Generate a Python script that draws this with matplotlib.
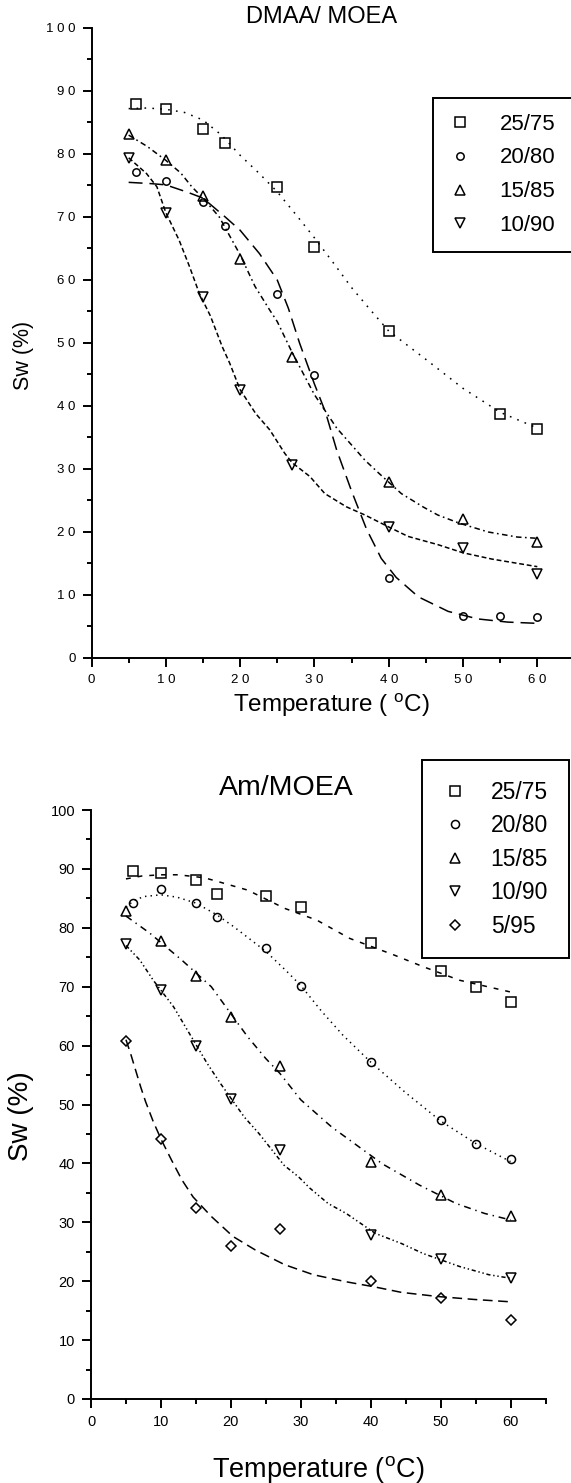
import matplotlib
matplotlib.use("Agg")
import matplotlib.pyplot as plt
from matplotlib.ticker import FixedLocator, MultipleLocator

plt.rcParams['font.family'] = ['Liberation Sans', 'DejaVu Sans']
plt.rcParams['mathtext.fontset'] = 'custom'
plt.rcParams['mathtext.rm'] = 'Liberation Sans'
plt.rcParams['lines.scale_dashes'] = False

# ---------- data: DMAA/MOEA (top) ----------
top_labels = ['25/75', '20/80', '15/85', '10/90']

t25_top = [6, 10, 15, 18, 25, 30, 40, 55, 60]
sw25_top = [87.9, 87.2, 84.0, 81.8, 74.7, 65.2, 51.9, 38.7, 36.4]
t20_top = [6, 10, 15, 18, 25, 30, 40, 50, 55, 60]
sw20_top = [77.2, 75.7, 72.4, 68.6, 57.8, 44.9, 12.7, 6.6, 6.6, 6.5]
t15_top = [5, 10, 15, 20, 27, 40, 50, 60]
sw15_top = [83.2, 79.1, 73.3, 63.3, 47.8, 28.0, 22.0, 18.4]
t10_top = [5, 10, 15, 20, 27, 40, 50, 60]
sw10_top = [79.4, 70.7, 57.3, 42.6, 30.6, 20.8, 17.4, 13.3]

# fitted curves
fit25_top_t = [5, 7.5, 10, 12.5, 15, 17.5, 20, 22.5, 25, 27.5, 30, 32.5, 35, 37.5, 40, 45, 50, 55, 60]
fit25_top_v = [87.2, 87.3, 87.1, 86.6, 85.4, 83.0, 79.8, 77.0, 74.0, 70.4, 66.7, 62.8, 58.8, 55.3, 51.9, 47.4, 42.8, 39.0, 36.5]
fit20_top_t = [5, 8, 10, 13, 15, 18, 20, 22.6, 25, 26.5, 28, 30, 31.5, 33, 35, 37, 39, 41, 44, 48, 52, 56, 60]
fit20_top_v = [75.5, 75.3, 75.1, 73.9, 73.0, 70.0, 67.9, 64.2, 60.0, 55.5, 50.0, 43.5, 39.0, 33.0, 26.5, 20.5, 15.8, 12.8, 9.7, 7.4, 6.2, 5.7, 5.5]
fit15_top_t = [5, 7.5, 10, 12, 13.5, 15, 17.2, 20, 22, 24, 25, 27, 30, 33, 36.8, 38.7, 41.7, 44.6, 46.6, 49.5, 53.4, 57.3, 60]
fit15_top_v = [83.0, 81.2, 79.0, 77.0, 74.8, 73.0, 70.0, 64.0, 59.0, 55.2, 53.4, 48.5, 41.8, 36.5, 31.4, 29.3, 26.1, 24.0, 22.7, 21.4, 20.0, 19.2, 19.0]
fit10_top_t = [5, 7.4, 8.8, 10, 11.8, 13.2, 14.5, 16, 17.6, 18.6, 20, 22.1, 24, 26, 27, 29.4, 31.4, 34.3, 36.8, 40, 42.6, 46.6, 50, 53.9, 60]
fit10_top_v = [79.4, 76.9, 74.8, 70.7, 66.3, 62.1, 57.9, 54.3, 49.4, 46.8, 42.6, 38.8, 36.2, 32.5, 31.0, 28.8, 26.1, 24.0, 22.7, 20.8, 19.3, 18.0, 16.7, 15.7, 14.5]

# ---------- data: Am/MOEA (bottom) ----------
bot_labels = ['25/75', '20/80', '15/85', '10/90', '5/95']

t25_bot = [6, 10, 15, 18, 25, 30, 40, 50, 55, 60]
sw25_bot = [89.7, 89.3, 88.2, 85.8, 85.4, 83.6, 77.5, 72.6, 69.9, 67.4]
t20_bot = [6, 10, 15, 18, 25, 30, 40, 50, 55, 60]
sw20_bot = [84.2, 86.6, 84.2, 81.8, 76.5, 70.2, 57.2, 47.3, 43.3, 40.7]
t15_bot = [5, 10, 15, 20, 27, 40, 50, 60]
sw15_bot = [82.9, 77.8, 71.9, 64.9, 56.6, 40.2, 34.6, 31.0]
t10_bot = [5, 10, 15, 20, 27, 40, 50, 60]
sw10_bot = [77.3, 69.5, 60.0, 50.9, 42.3, 27.8, 23.7, 20.5]
t5_bot = [5, 10, 15, 20, 27, 40, 50, 60]
sw5_bot = [60.8, 44.1, 32.4, 26.0, 28.8, 20.0, 17.2, 13.4]

fit25_bot_t = [5, 7.3, 10, 12.5, 16.2, 18.3, 22.4, 27.7, 32.3, 37, 43.3, 47.5, 52.7, 60]
fit25_bot_v = [88.3, 88.8, 89.0, 89.0, 88.5, 87.8, 86.4, 83.3, 81.3, 78.2, 75.4, 73.4, 71.1, 69.1]
fit20_bot_t = [5, 6, 7.5, 10, 12.3, 15, 18, 20.4, 25, 28, 30, 33, 36, 40, 45, 50, 55, 60]
fit20_bot_v = [83.5, 84.5, 85.3, 85.6, 85.2, 84.2, 82.2, 80.2, 76.0, 72.6, 70.2, 65.8, 61.8, 57.2, 52.0, 47.2, 43.4, 40.3]
fit15_bot_t = [5, 8.4, 13, 17.2, 22.4, 25, 27, 30, 34.4, 38.1, 41.7, 47, 52.2, 56.3, 60]
fit15_bot_v = [82.0, 79.1, 74.5, 70.0, 61.5, 57.8, 55.3, 50.8, 46.2, 43.0, 39.9, 36.3, 33.2, 31.5, 30.4]
fit10_bot_t = [5, 7, 8.9, 11.8, 13.2, 16.6, 18.5, 21.9, 24, 27.6, 29.7, 31.3, 33.9, 36.5, 39.2, 40.7, 44.4, 47.5, 52.7, 56.9, 60]
fit10_bot_v = [77.0, 74.5, 71.1, 66.6, 63.8, 57.0, 53.6, 47.9, 45.1, 39.7, 37.7, 35.8, 33.2, 31.5, 29.3, 28.1, 26.4, 24.7, 22.5, 21.1, 20.5]
fit5_bot_t = [5, 5.7, 7.1, 7.8, 8.9, 10.1, 11.5, 13, 14.6, 17.2, 20.3, 23.5, 27.7, 31.8, 36.5, 40.7, 44.4, 49.6, 54.8, 60]
fit5_bot_v = [61.0, 58.5, 53.0, 50.5, 47.1, 43.9, 40.6, 37.2, 34.3, 31.0, 27.6, 25.3, 22.8, 21.1, 19.9, 19.0, 18.1, 17.4, 16.9, 16.5]

W, H = 571, 1483
fig = plt.figure(figsize=(W / 100, H / 100), dpi=100)


def style_axes(ax, xmax, lab_fs, spaced):
    for s in ['top', 'right']:
        ax.spines[s].set_visible(False)
    for s in ['left', 'bottom']:
        ax.spines[s].set_linewidth(1.4)
    ax.set_xlim(0, xmax)
    ax.set_ylim(0, 100)
    xt = list(range(0, 61, 10))
    yt = list(range(0, 101, 10))
    ax.xaxis.set_major_locator(FixedLocator(xt))
    ax.yaxis.set_major_locator(FixedLocator(yt))
    ax.xaxis.set_minor_locator(MultipleLocator(5))
    ax.yaxis.set_minor_locator(MultipleLocator(5))
    if spaced:
        ax.set_xticklabels([' '.join(str(v)) for v in xt])
        ax.set_yticklabels([' '.join(str(v)) for v in yt])
    ax.tick_params(which='major', direction='out', length=6.5, width=1.4,
                   labelsize=lab_fs, pad=5)
    ax.tick_params(which='minor', direction='out', length=3.8, width=1.4)


def frame(leg):
    leg.get_frame().set_edgecolor('black')
    leg.get_frame().set_linewidth(1.4)
    leg.get_frame().set_alpha(1)


mk = dict(mfc='none', mec='black', mew=1.1, ls='none', color='black')
ln = dict(color='black', lw=1.1)

# ---------------- top panel ----------------
ax1 = fig.add_axes([91.5 / W, (H - 658) / H, (W - 91.5) / W, 630 / H])
style_axes(ax1, (W - 91.5) / 7.43, 9.5, True)

ax1.plot(fit25_top_t, fit25_top_v, dashes=(1.2, 4.5), **ln)
ax1.plot(fit20_top_t, fit20_top_v, dashes=(10, 5), **ln)
ax1.plot(fit15_top_t, fit15_top_v, dashes=(4, 2.5, 1.2, 2.5), **ln)
ax1.plot(fit10_top_t, fit10_top_v, dashes=(3.5, 2), **ln)

h1 = [ax1.plot(t25_top, sw25_top, marker='s', ms=6.5, **mk)[0],
      ax1.plot(t20_top, sw20_top, marker='o', ms=5.3, **mk)[0],
      ax1.plot(t15_top, sw15_top, marker='^', ms=6.8, **mk)[0],
      ax1.plot(t10_top, sw10_top, marker='v', ms=6.8, **mk)[0]]

ax1.set_title('DMAA/ MOEA', fontsize=17, pad=0, x=0.48)
ax1.set_xlabel(r'Temperature ( $^{\rm o}$C)', fontsize=17.5, labelpad=4)
ax1.set_ylabel('Sw (%)', fontsize=15.5, labelpad=4)
ax1.yaxis.set_label_coords(-0.12, 0.48)

# legend box runs past the right edge of the figure, as in the original
leg1 = ax1.legend(h1, top_labels, loc='upper left', mode='expand',
                  bbox_to_anchor=(433 / W, (H - 98) / H, 170 / W, 0),
                  bbox_transform=fig.transFigure, fontsize=16,
                  frameon=True, fancybox=False, borderaxespad=0,
                  borderpad=0.7, handlelength=1.0, handletextpad=1.3,
                  labelspacing=0.58, numpoints=1)
frame(leg1)

# ---------------- bottom panel ----------------
ax2 = fig.add_axes([91 / W, 84 / H, 454.5 / W, 589 / H])
style_axes(ax2, 65, 10.5, False)

ax2.plot(fit25_bot_t, fit25_bot_v, dashes=(3.5, 5), **ln)
ax2.plot(fit20_bot_t, fit20_bot_v, dashes=(1, 3), **ln)
ax2.plot(fit15_bot_t, fit15_bot_v, dashes=(5, 3.5, 1, 3.5), **ln)
ax2.plot(fit10_bot_t, fit10_bot_v, dashes=(3, 2, 1, 2, 1, 2), **ln)
ax2.plot(fit5_bot_t, fit5_bot_v, dashes=(7, 4), **ln)

h2 = [ax2.plot(t25_bot, sw25_bot, marker='s', ms=7.2, **mk)[0],
      ax2.plot(t20_bot, sw20_bot, marker='o', ms=5.8, **mk)[0],
      ax2.plot(t15_bot, sw15_bot, marker='^', ms=7.2, **mk)[0],
      ax2.plot(t10_bot, sw10_bot, marker='v', ms=7.2, **mk)[0],
      ax2.plot(t5_bot, sw5_bot, marker='D', ms=5.6, **mk)[0]]

ax2.set_title('Am/MOEA', fontsize=20.5, pad=11, x=0.43)
ax2.set_xlabel(r'Temperature ($^{\rm o}$C)', fontsize=19.5, labelpad=18)
ax2.set_ylabel('Sw (%)', fontsize=20, labelpad=4)
ax2.yaxis.set_label_coords(-0.125, 0.48)

leg2 = ax2.legend(h2, bot_labels, loc='upper left',
                  bbox_to_anchor=(422 / W, (H - 760) / H),
                  bbox_transform=fig.transFigure, fontsize=16.5,
                  frameon=True, fancybox=False, borderaxespad=0,
                  borderpad=0.9, handlelength=1.1, handletextpad=1.0,
                  labelspacing=0.46, numpoints=1)
frame(leg2)

fig.savefig('out.png', dpi=100)
